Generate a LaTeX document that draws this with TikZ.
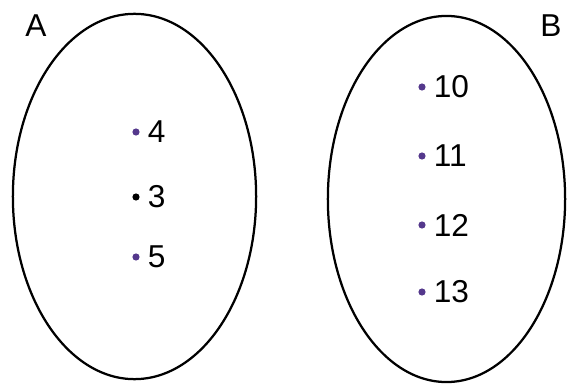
\documentclass[tikz,border=0pt]{standalone}
\usepackage{fontspec}
\setmainfont{Liberation Sans}
\usetikzlibrary{positioning,shapes.geometric}
\definecolor{dotpurple}{RGB}{84,56,140}

\begin{document}
\begin{tikzpicture}[
  x=0.025cm, y=-0.025cm,
  node distance=0.19cm,
  every node/.style={font=\fontsize{22.5}{27}\selectfont},
  setring/.style ={draw, ellipse, line width=1.6pt, inner sep=0pt},
  setname/.style ={inner sep=0pt},
  elemdot/.style ={circle, fill=dotpurple, inner sep=0pt, minimum size=0.18cm},
  elemname/.style={inner sep=0pt}]

\useasboundingbox (0,0) rectangle (568,388);

\node[setring, minimum width=6.08cm, minimum height=9.13cm] (setA) at (134.5,196.5) {};
\node[setring, minimum width=5.93cm, minimum height=9.15cm] (setB) at (446.5,199) {};

\node[setname] (nameA) at (36,26)  {A};
\node[setname] (nameB) at (551,26) {B};

%% elements of A
\node[elemdot] (d4) at (136,132) {};
\node[elemdot, fill=black] (d3) at (136,197) {};
\node[elemdot] (d5) at (136,257) {};
\node[elemname, right=of d4] (e4) {4};
\node[elemname, right=of d3] (e3) {3};
\node[elemname, right=of d5] (e5) {5};

%% elements of B
\node[elemdot] (d10) at (422,87)  {};
\node[elemdot] (d11) at (422,156) {};
\node[elemdot] (d12) at (422,225) {};
\node[elemdot] (d13) at (422,292) {};
\node[elemname, right=0.19cm of d10] (e10) {10};
\node[elemname, right=0.19cm of d11] (e11) {11};
\node[elemname, right=0.19cm of d12] (e12) {12};
\node[elemname, right=0.19cm of d13] (e13) {13};
\end{tikzpicture}
\end{document}
